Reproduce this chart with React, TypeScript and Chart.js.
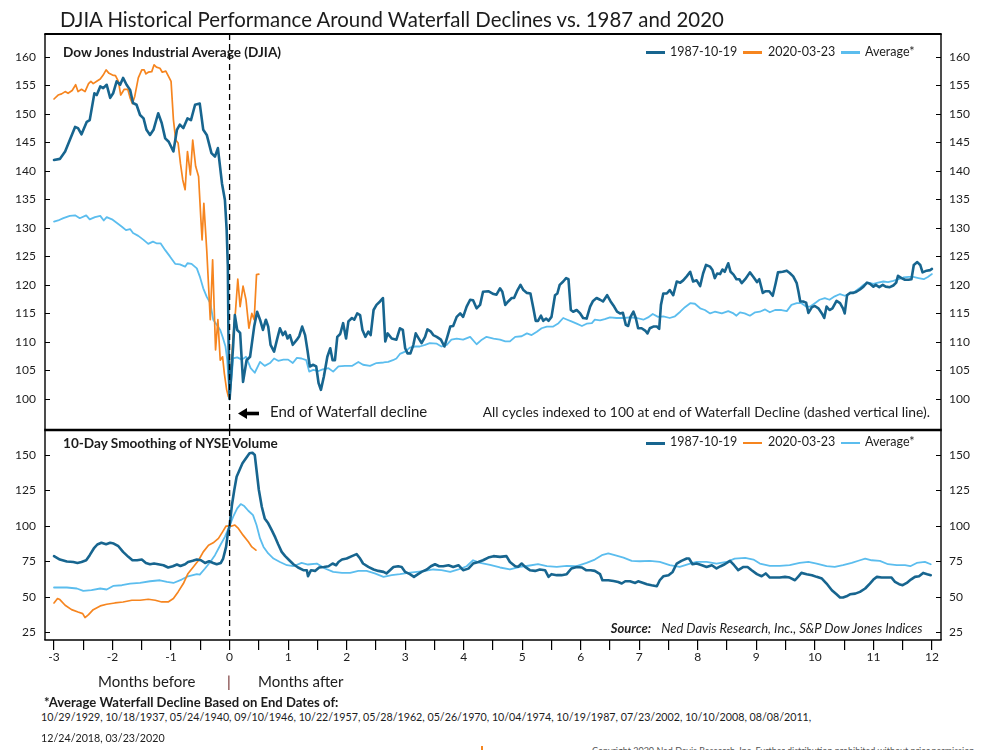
import React, { useEffect, useRef } from "react";
import { Chart, registerables } from "chart.js";

Chart.register(...registerables);

const FONT = "Lato, 'Open Sans', 'DejaVu Sans', sans-serif";
const DARK = "#17658f";
const ORANGE = "#f6851f";
const LIGHT = "#5bbdee";
const INK = "#1c1c1c";

// ---------- axes ----------
const MONTH_TICKS = [-3, -2.5, -2, -1.5, -1, -0.5, 0, 0.5, 1, 1.5, 2, 2.5, 3, 3.5, 4, 4.5, 5, 5.5, 6, 6.5, 7, 7.5, 8, 8.5, 9, 9.5, 10, 10.5, 11, 11.5, 12];
const DJIA_TICKS = [100, 105, 110, 115, 120, 125, 130, 135, 140, 145, 150, 155, 160];
const VOLUME_TICKS = [25, 50, 75, 100, 125, 150];
const MONTH_RANGE = [-3.154, 12.155];
const DJIA_RANGE = [94.56, 164];
const VOLUME_RANGE = [19.6, 167.6];

const LEGEND_LABELS = ["1987-10-19", "2020-03-23", "Average*"];
const END_DATES = [
  "10/29/1929", "10/18/1937", "05/24/1940", "09/10/1946", "10/22/1957", "05/28/1962", "05/26/1970",
  "10/04/1974", "10/19/1987", "07/23/2002", "10/10/2008", "08/08/2011", "12/24/2018", "03/23/2020",
];

// ---------- DJIA (indexed to 100), [month, value] ----------
const DJIA_1987 = [
  [-3.0, 141.9], [-2.9, 142.1], [-2.81, 143.4], [-2.73, 145.4], [-2.64, 147.7], [-2.59, 147.5], [-2.53, 146.4], [-2.44, 148.6], [-2.39, 148.9], [-2.31, 153.6],
  [-2.27, 153.3], [-2.21, 154.8], [-2.16, 154.5], [-2.1, 155.1], [-2.04, 152.8], [-1.99, 153.6], [-1.93, 155.7], [-1.87, 155.1], [-1.82, 156.3], [-1.76, 155.1],
  [-1.7, 154.2], [-1.65, 151.9], [-1.59, 151.6], [-1.53, 149.8], [-1.47, 149.2], [-1.42, 147.2], [-1.36, 146.3], [-1.3, 147.2], [-1.22, 150.1], [-1.16, 148.4],
  [-1.1, 145.7], [-1.04, 145.1], [-0.96, 143.4], [-0.9, 147.2], [-0.85, 148.1], [-0.79, 147.5], [-0.72, 149.2], [-0.66, 148.9], [-0.59, 151.6], [-0.51, 151.8],
  [-0.45, 147.2], [-0.39, 146.3], [-0.31, 143.1], [-0.25, 142.5], [-0.2, 144.0], [-0.13, 137.8], [-0.08, 134.9], [-0.05, 129.6], [-0.03, 123.2], [-0.02, 111.6],
  [0, 100],
  [0.06, 109.2], [0.09, 114.7], [0.13, 112.1], [0.18, 111.6], [0.23, 103.0], [0.29, 106.8], [0.35, 107.4], [0.42, 112.7], [0.47, 115.3], [0.52, 113.9],
  [0.57, 112.1], [0.62, 113.9], [0.66, 112.7], [0.7, 109.5], [0.76, 108.3], [0.81, 110.4], [0.86, 112.4], [0.91, 111.2], [0.95, 111.8], [0.99, 110.6],
  [1.03, 111.2], [1.08, 109.5], [1.15, 110.4], [1.19, 111.0], [1.24, 112.7], [1.29, 111.2], [1.33, 108.6], [1.37, 105.7], [1.43, 106.0], [1.48, 105.7],
  [1.52, 102.8], [1.56, 101.6], [1.61, 103.9], [1.67, 107.4], [1.72, 108.9], [1.76, 106.8], [1.8, 106.8], [1.84, 110.9], [1.89, 111.4], [1.94, 113.3],
  [1.99, 110.6], [2.03, 113.6], [2.09, 114.2], [2.13, 113.9], [2.18, 115.0], [2.23, 114.7], [2.27, 112.1], [2.32, 110.9], [2.37, 111.8], [2.41, 111.2],
  [2.46, 115.6], [2.51, 116.5], [2.57, 117.1], [2.62, 117.7], [2.66, 110.1], [2.7, 111.5], [2.77, 110.6], [2.85, 110.4], [2.91, 112.4], [2.96, 112.1],
  [3.0, 108.9], [3.04, 108.0], [3.09, 108.0], [3.14, 109.5], [3.18, 111.5], [3.22, 110.8], [3.28, 109.8], [3.34, 110.9], [3.38, 112.2], [3.44, 111.8],
  [3.48, 111.2], [3.54, 110.9], [3.61, 110.4], [3.67, 109.2], [3.72, 110.9], [3.77, 112.7], [3.82, 112.8], [3.88, 114.4], [3.94, 115.0], [3.99, 114.4],
  [4.05, 116.2], [4.11, 117.4], [4.16, 117.3], [4.22, 115.9], [4.28, 116.5], [4.33, 118.8], [4.42, 118.9], [4.51, 118.4], [4.56, 118.3], [4.62, 119.4],
  [4.66, 118.8], [4.71, 116.5], [4.76, 117.1], [4.82, 117.7], [4.86, 117.7], [4.92, 119.1], [4.97, 120.0], [5.02, 119.1], [5.08, 118.6], [5.14, 118.5],
  [5.19, 115.9], [5.23, 113.7], [5.27, 113.7], [5.32, 114.6], [5.36, 113.7], [5.41, 114.1], [5.45, 113.7], [5.5, 114.4], [5.56, 118.2], [5.6, 118.5],
  [5.64, 120.0], [5.7, 120.6], [5.75, 121.2], [5.79, 121.0], [5.83, 115.6], [5.87, 115.3], [5.93, 115.6], [5.99, 115.0], [6.04, 114.2], [6.1, 114.1],
  [6.16, 116.2], [6.21, 117.2], [6.27, 117.7], [6.33, 117.4], [6.38, 117.1], [6.45, 118.2], [6.51, 117.1], [6.57, 116.2], [6.62, 115.3], [6.67, 115.0],
  [6.72, 115.1], [6.77, 113.0], [6.81, 112.8], [6.85, 114.4], [6.9, 115.3], [6.94, 114.2], [6.98, 112.4], [7.04, 112.4], [7.1, 112.0], [7.14, 111.5],
  [7.18, 112.4], [7.24, 112.7], [7.3, 112.7], [7.34, 112.3], [7.37, 116.5], [7.41, 118.5], [7.47, 118.5], [7.52, 119.1], [7.58, 118.2], [7.64, 120.6],
  [7.7, 120.4], [7.75, 120.8], [7.81, 121.5], [7.87, 122.3], [7.92, 120.6], [7.98, 120.8], [8.04, 119.8], [8.09, 122.0], [8.14, 123.5], [8.21, 123.2],
  [8.25, 122.6], [8.29, 121.2], [8.33, 122.0], [8.38, 121.9], [8.42, 122.7], [8.46, 122.3], [8.52, 123.8], [8.56, 122.3], [8.61, 121.8], [8.66, 121.0],
  [8.71, 121.0], [8.75, 120.3], [8.81, 121.0], [8.89, 122.2], [8.95, 121.4], [9.01, 120.5], [9.05, 121.0], [9.11, 118.6], [9.16, 118.9], [9.22, 118.9],
  [9.28, 118.1], [9.33, 120.3], [9.37, 122.2], [9.45, 122.3], [9.52, 122.5], [9.57, 122.1], [9.63, 121.5], [9.69, 120.3], [9.72, 118.8], [9.75, 117.1],
  [9.8, 117.1], [9.85, 116.9], [9.89, 115.1], [9.95, 116.1], [10.0, 116.3], [10.06, 115.9], [10.12, 115.0], [10.16, 114.2], [10.2, 116.2], [10.25, 115.6],
  [10.3, 115.9], [10.37, 117.2], [10.43, 116.8], [10.48, 115.9], [10.51, 115.0], [10.55, 118.2], [10.6, 118.6], [10.66, 118.6], [10.71, 118.8], [10.77, 119.2],
  [10.83, 119.7], [10.89, 120.4], [10.94, 120.2], [11.0, 119.7], [11.04, 120.0], [11.1, 119.6], [11.16, 120.0], [11.21, 119.7], [11.28, 119.6], [11.34, 119.9],
  [11.39, 120.4], [11.42, 121.6], [11.48, 121.2], [11.54, 120.9], [11.6, 120.9], [11.65, 121.0], [11.69, 123.5], [11.75, 124.0], [11.8, 123.5], [11.84, 122.2],
  [11.91, 122.5], [11.97, 122.6], [12.0, 122.8],
];

const DJIA_2020 = [
  [-3.0, 152.6], [-2.93, 153.3], [-2.87, 153.5], [-2.81, 153.9], [-2.76, 153.6], [-2.69, 154.1], [-2.63, 155.1], [-2.59, 153.9], [-2.53, 154.3], [-2.47, 153.9],
  [-2.41, 155.3], [-2.37, 155.7], [-2.33, 155.3], [-2.27, 155.7], [-2.21, 156.1], [-2.16, 156.8], [-2.11, 157.7], [-2.06, 157.1], [-2.0, 156.8], [-1.95, 156.7],
  [-1.9, 155.7], [-1.86, 153.3], [-1.8, 154.3], [-1.74, 154.3], [-1.7, 152.8], [-1.66, 151.8], [-1.62, 153.1], [-1.56, 156.3], [-1.5, 157.7], [-1.46, 157.7],
  [-1.43, 157.0], [-1.39, 157.3], [-1.33, 157.4], [-1.29, 158.6], [-1.25, 158.2], [-1.19, 158.0], [-1.15, 157.3], [-1.09, 157.5], [-1.05, 156.7], [-1.0, 155.7],
  [-0.96, 149.0], [-0.92, 145.4], [-0.88, 144.9], [-0.84, 141.3], [-0.8, 138.4], [-0.76, 136.7], [-0.72, 143.4], [-0.67, 139.3], [-0.63, 145.4], [-0.58, 140.8],
  [-0.53, 139.0], [-0.49, 131.4], [-0.47, 127.9], [-0.44, 134.3], [-0.39, 126.0], [-0.33, 113.9], [-0.29, 124.4], [-0.24, 108.6], [-0.2, 113.9], [-0.16, 106.8],
  [-0.12, 107.4], [-0.09, 104.5], [-0.05, 101.6], [-0.02, 100.4], [0, 100], [0.02, 104.5], [0.06, 110.9], [0.1, 115.3], [0.14, 121.0], [0.18, 116.2],
  [0.23, 119.8], [0.28, 117.4], [0.33, 112.4], [0.38, 115.0], [0.42, 113.9], [0.46, 121.8], [0.5, 121.9],
];

const DJIA_AVERAGE = [
  [-3.0, 131.1], [-2.93, 131.3], [-2.84, 131.7], [-2.73, 132.1], [-2.64, 132.2], [-2.56, 131.7], [-2.45, 132.2], [-2.39, 131.5], [-2.3, 131.9], [-2.21, 132.1],
  [-2.15, 131.3], [-2.1, 131.9], [-2.01, 131.5], [-1.93, 130.9], [-1.84, 130.2], [-1.77, 129.6], [-1.7, 129.8], [-1.65, 129.1], [-1.56, 128.6], [-1.47, 127.9],
  [-1.39, 127.2], [-1.31, 127.6], [-1.25, 127.3], [-1.18, 127.3], [-1.1, 126.1], [-1.02, 125.0], [-0.93, 123.7], [-0.85, 123.6], [-0.76, 123.2], [-0.72, 123.8],
  [-0.65, 123.7], [-0.56, 122.9], [-0.51, 121.5], [-0.45, 119.4], [-0.39, 117.9], [-0.33, 116.8], [-0.28, 113.9], [-0.22, 113.0], [-0.16, 112.1], [-0.12, 110.9],
  [-0.07, 109.2], [-0.04, 106.8], [0, 100], [0.04, 104.5], [0.06, 107.1], [0.13, 107.3], [0.21, 106.9], [0.28, 107.4], [0.36, 105.4], [0.43, 104.6],
  [0.52, 106.5], [0.6, 105.8], [0.69, 106.3], [0.76, 107.1], [0.83, 106.7], [0.92, 106.9], [1.0, 106.9], [1.08, 106.3], [1.15, 107.2], [1.23, 107.1],
  [1.31, 106.8], [1.36, 104.8], [1.43, 105.1], [1.52, 104.9], [1.59, 105.2], [1.69, 105.4], [1.77, 104.8], [1.86, 105.7], [1.97, 105.8], [2.09, 105.8],
  [2.2, 106.5], [2.28, 106.0], [2.4, 105.8], [2.51, 106.3], [2.63, 106.4], [2.71, 106.5], [2.79, 106.8], [2.85, 107.1], [2.91, 107.9], [3.0, 108.3],
  [3.08, 109.0], [3.17, 109.2], [3.25, 109.2], [3.34, 109.5], [3.42, 109.8], [3.54, 109.7], [3.62, 109.2], [3.71, 109.5], [3.79, 110.4], [3.88, 110.6],
  [3.99, 110.4], [4.11, 110.9], [4.22, 109.6], [4.31, 110.4], [4.39, 110.9], [4.51, 110.6], [4.62, 110.4], [4.71, 110.1], [4.79, 110.1], [4.88, 110.9],
  [4.99, 111.0], [5.08, 111.5], [5.16, 111.2], [5.25, 111.8], [5.33, 112.4], [5.42, 112.7], [5.53, 112.7], [5.62, 113.3], [5.7, 114.2], [5.77, 113.9],
  [5.84, 113.6], [5.93, 113.2], [6.02, 112.8], [6.1, 113.2], [6.19, 113.3], [6.24, 113.9], [6.33, 113.8], [6.41, 114.0], [6.5, 114.3], [6.61, 114.2],
  [6.73, 114.2], [6.84, 114.3], [6.96, 114.2], [7.07, 113.9], [7.15, 114.3], [7.23, 114.9], [7.32, 114.4], [7.41, 114.5], [7.52, 114.2], [7.61, 114.5],
  [7.7, 115.3], [7.78, 116.1], [7.87, 116.8], [7.95, 116.7], [8.04, 115.9], [8.12, 115.6], [8.21, 115.0], [8.29, 115.3], [8.41, 115.0], [8.52, 115.4],
  [8.61, 115.0], [8.66, 114.6], [8.72, 115.2], [8.8, 115.0], [8.89, 114.6], [8.98, 115.2], [9.06, 115.3], [9.15, 115.7], [9.23, 115.2], [9.32, 115.6],
  [9.43, 115.6], [9.52, 115.4], [9.6, 116.5], [9.69, 116.8], [9.77, 116.8], [9.85, 116.2], [9.92, 116.2], [10.0, 116.8], [10.08, 117.4], [10.17, 117.7],
  [10.25, 117.4], [10.34, 118.0], [10.43, 118.4], [10.51, 118.1], [10.6, 118.5], [10.68, 118.8], [10.76, 119.4], [10.83, 120.0], [10.91, 120.4], [11.0, 120.2],
  [11.08, 120.4], [11.17, 120.6], [11.25, 120.5], [11.34, 120.7], [11.43, 121.0], [11.51, 121.3], [11.6, 121.4], [11.68, 121.4], [11.77, 121.2], [11.86, 121.0],
  [11.93, 121.4], [12.0, 121.9],
];

// ---------- 10-day smoothed NYSE volume (indexed), [month, value] ----------
const VOLUME_1987 = [
  [-3.0, 78.7], [-2.9, 76.3], [-2.78, 74.9], [-2.67, 74.6], [-2.6, 73.9], [-2.53, 74.6], [-2.45, 75.8], [-2.39, 79.4], [-2.32, 84.1], [-2.26, 86.9],
  [-2.19, 88.1], [-2.11, 87.1], [-2.04, 88.1], [-1.98, 87.6], [-1.9, 85.7], [-1.82, 81.7], [-1.73, 78.2], [-1.66, 75.8], [-1.58, 75.8], [-1.5, 76.3],
  [-1.43, 73.9], [-1.36, 73.0], [-1.29, 73.5], [-1.22, 73.0], [-1.13, 72.3], [-1.05, 70.7], [-0.97, 71.6], [-0.9, 72.8], [-0.84, 71.8], [-0.76, 73.0],
  [-0.71, 74.6], [-0.63, 75.4], [-0.56, 76.3], [-0.49, 75.8], [-0.42, 73.9], [-0.35, 75.1], [-0.28, 73.9], [-0.22, 73.0], [-0.15, 73.9], [-0.11, 77.0],
  [-0.06, 85.2], [-0.03, 94.7], [0, 100], [0.04, 114.7], [0.08, 125.3], [0.12, 134.7], [0.17, 139.4], [0.22, 144.1], [0.28, 147.7], [0.34, 151.2],
  [0.39, 151.6], [0.43, 150.0], [0.46, 139.4], [0.5, 125.3], [0.55, 113.5], [0.6, 105.3], [0.66, 101.8], [0.72, 97.0], [0.78, 91.9], [0.83, 87.1],
  [0.89, 81.7], [0.95, 78.7], [1.02, 75.8], [1.09, 73.0], [1.17, 70.7], [1.26, 68.8], [1.32, 68.8], [1.34, 64.5], [1.39, 68.8], [1.46, 68.3],
  [1.53, 70.7], [1.61, 71.1], [1.69, 71.6], [1.76, 73.5], [1.82, 72.3], [1.86, 74.6], [1.92, 76.3], [2.0, 77.0], [2.09, 78.7], [2.17, 80.1],
  [2.23, 77.0], [2.28, 73.5], [2.37, 71.1], [2.46, 69.3], [2.54, 68.3], [2.63, 67.6], [2.68, 66.5], [2.74, 68.8], [2.8, 71.1], [2.88, 71.6],
  [2.94, 71.1], [3.0, 67.6], [3.08, 66.0], [3.15, 64.1], [3.22, 66.0], [3.28, 67.6], [3.37, 69.3], [3.44, 71.6], [3.51, 73.0], [3.58, 71.6],
  [3.65, 71.6], [3.74, 72.3], [3.82, 71.1], [3.91, 72.3], [3.99, 68.8], [4.08, 69.9], [4.16, 73.5], [4.25, 74.6], [4.33, 75.8], [4.42, 77.7],
  [4.51, 78.7], [4.62, 78.2], [4.73, 78.7], [4.79, 74.6], [4.88, 71.6], [4.93, 71.2], [4.99, 73.5], [5.05, 71.1], [5.13, 68.8], [5.22, 68.3],
  [5.3, 69.3], [5.39, 68.8], [5.45, 64.1], [5.5, 66.0], [5.59, 65.3], [5.67, 65.3], [5.76, 66.0], [5.84, 70.0], [5.93, 71.1], [6.02, 70.7],
  [6.09, 68.8], [6.17, 68.8], [6.24, 68.3], [6.33, 66.0], [6.37, 61.7], [6.47, 61.7], [6.56, 61.2], [6.64, 60.5], [6.7, 59.4], [6.76, 61.0],
  [6.84, 61.0], [6.93, 59.8], [6.98, 61.0], [7.07, 59.8], [7.13, 58.9], [7.21, 58.2], [7.3, 57.5], [7.35, 61.7], [7.41, 64.5], [7.5, 65.3],
  [7.57, 67.6], [7.64, 73.5], [7.72, 75.4], [7.81, 77.0], [7.85, 77.0], [7.91, 73.0], [7.98, 73.5], [8.07, 72.3], [8.15, 71.1], [8.24, 72.3],
  [8.32, 70.0], [8.39, 71.6], [8.46, 73.0], [8.55, 75.4], [8.62, 72.3], [8.69, 68.8], [8.78, 71.1], [8.85, 71.1], [8.92, 68.8], [9.01, 66.0],
  [9.09, 64.5], [9.16, 66.5], [9.23, 63.6], [9.32, 63.6], [9.4, 63.6], [9.49, 64.1], [9.57, 63.6], [9.66, 61.7], [9.72, 64.5], [9.77, 66.9],
  [9.86, 66.0], [9.95, 65.3], [10.03, 64.1], [10.12, 62.9], [10.2, 59.4], [10.29, 54.7], [10.37, 51.8], [10.43, 49.5], [10.48, 49.5], [10.54, 50.4],
  [10.6, 51.8], [10.69, 52.3], [10.77, 53.5], [10.86, 55.9], [10.94, 59.4], [11.0, 62.2], [11.06, 64.1], [11.14, 63.6], [11.23, 63.6], [11.31, 63.6],
  [11.37, 60.5], [11.44, 58.9], [11.5, 58.2], [11.57, 59.8], [11.64, 62.2], [11.71, 64.1], [11.78, 64.5], [11.85, 66.9], [11.92, 66.0], [11.98, 65.3],
];

const VOLUME_2020 = [
  [-3.0, 45.7], [-2.94, 48.8], [-2.9, 48.1], [-2.81, 44.1], [-2.7, 41.0], [-2.59, 39.3], [-2.51, 38.2], [-2.47, 35.4], [-2.41, 37.5], [-2.33, 41.0],
  [-2.21, 43.6], [-2.1, 44.8], [-1.96, 45.7], [-1.82, 46.4], [-1.67, 47.6], [-1.53, 47.6], [-1.39, 48.3], [-1.27, 47.6], [-1.16, 46.4], [-1.05, 46.4],
  [-0.96, 48.8], [-0.88, 53.5], [-0.79, 59.4], [-0.71, 66.5], [-0.62, 71.1], [-0.53, 75.8], [-0.45, 81.7], [-0.36, 86.4], [-0.28, 88.1], [-0.19, 91.2],
  [-0.12, 95.8], [-0.06, 99.9], [0, 100], [0.04, 99.9], [0.09, 100.6], [0.15, 98.2], [0.23, 93.5], [0.32, 88.8], [0.38, 85.2], [0.45, 82.9],
];

const VOLUME_AVERAGE = [
  [-3.0, 56.6], [-2.78, 56.6], [-2.61, 55.9], [-2.5, 54.2], [-2.36, 54.7], [-2.21, 55.9], [-2.1, 55.2], [-1.99, 57.7], [-1.84, 58.2], [-1.7, 59.4],
  [-1.53, 59.8], [-1.36, 61.0], [-1.19, 61.7], [-1.07, 60.5], [-0.96, 59.8], [-0.82, 62.2], [-0.71, 64.5], [-0.56, 66.0], [-0.51, 65.7], [-0.42, 70.0],
  [-0.33, 74.6], [-0.25, 79.4], [-0.16, 86.4], [-0.08, 92.3], [0, 100], [0.06, 106.4], [0.13, 112.4], [0.19, 115.4], [0.25, 114.0], [0.32, 110.7],
  [0.4, 107.6], [0.46, 100.6], [0.52, 91.2], [0.58, 85.2], [0.66, 80.6], [0.75, 77.0], [0.86, 74.6], [0.98, 72.3], [1.09, 71.6], [1.23, 73.9],
  [1.34, 72.8], [1.49, 73.5], [1.63, 70.0], [1.77, 67.6], [1.92, 66.9], [2.06, 66.9], [2.2, 68.3], [2.34, 68.3], [2.48, 66.5], [2.63, 64.1],
  [2.77, 65.3], [2.91, 66.0], [3.05, 66.9], [3.2, 67.6], [3.34, 68.3], [3.48, 69.3], [3.62, 68.8], [3.77, 67.6], [3.91, 69.3], [4.05, 71.6],
  [4.16, 75.8], [4.28, 74.0], [4.45, 72.5], [4.62, 70.7], [4.79, 69.3], [4.96, 71.1], [5.13, 72.1], [5.27, 73.0], [5.42, 71.6], [5.59, 71.1],
  [5.76, 71.8], [5.93, 71.6], [6.1, 73.9], [6.24, 76.3], [6.36, 79.4], [6.47, 80.6], [6.58, 79.4], [6.73, 77.7], [6.87, 75.4], [7.01, 75.1],
  [7.18, 75.4], [7.35, 74.6], [7.52, 72.3], [7.69, 71.1], [7.84, 73.0], [7.98, 74.6], [8.15, 74.6], [8.32, 73.5], [8.49, 74.6], [8.63, 77.0],
  [8.81, 77.5], [8.95, 76.3], [9.06, 73.5], [9.23, 71.8], [9.4, 71.8], [9.57, 72.3], [9.74, 73.9], [9.89, 74.6], [10.03, 73.5], [10.2, 71.6],
  [10.34, 71.1], [10.48, 72.3], [10.63, 73.9], [10.77, 75.8], [10.86, 77.0], [10.97, 75.8], [11.11, 75.4], [11.25, 73.0], [11.4, 72.3], [11.54, 72.3],
  [11.63, 71.6], [11.74, 73.9], [11.88, 74.6], [11.98, 73.0],
];

// ---------- helpers ----------
const toPoints = (s: number[][]) => s.map(([x, y]) => ({ x, y }));

function lineSet(label: string, series: number[][], color: string, width: number, order: number) {
  return {
    label,
    data: toPoints(series),
    borderColor: color,
    backgroundColor: color,
    borderWidth: width,
    pointRadius: 0,
    pointHoverRadius: 0,
    tension: 0,
    fill: false,
    order,
    xAxisID: "x",
    yAxisID: "yL",
    borderJoinStyle: "round" as const,
    borderCapStyle: "round" as const,
  };
}

function yAxis(position: "left" | "right", range: number[], ticks: number[], width: number, padding: number) {
  return {
    type: "linear" as const,
    position,
    min: range[0],
    max: range[1],
    afterFit: (s: any) => {
      s.width = width;
      s.paddingTop = 0;
      s.paddingBottom = 0;
      s.paddingLeft = 0;
      s.paddingRight = 0;
    },
    afterBuildTicks: (s: any) => {
      s.ticks = ticks.map((v) => ({ value: v }));
    },
    grid: { display: false, drawTicks: false },
    border: { display: false },
    ticks: { padding, color: INK, font: { family: FONT, size: 12 } },
  };
}

function framePlugin(ticks: number[], topWidth: number, bottomWidth: number) {
  return {
    id: "panelFrame",
    afterDatasetsDraw(chart: any) {
      const { ctx, chartArea: a, scales } = chart;
      const x0 = scales.x.getPixelForValue(0);
      ctx.save();
      ctx.strokeStyle = "#000";
      ctx.lineWidth = 1.3;
      ctx.setLineDash([6, 4]);
      ctx.beginPath();
      ctx.moveTo(x0, a.top);
      ctx.lineTo(x0, a.bottom);
      ctx.stroke();
      ctx.setLineDash([]);
      ctx.lineWidth = 1.4;
      ctx.beginPath();
      ctx.moveTo(a.left, a.top);
      ctx.lineTo(a.left, a.bottom);
      ctx.moveTo(a.right, a.top);
      ctx.lineTo(a.right, a.bottom);
      ctx.stroke();
      ctx.lineWidth = topWidth;
      ctx.beginPath();
      ctx.moveTo(a.left - 0.7, a.top);
      ctx.lineTo(a.right + 0.7, a.top);
      ctx.stroke();
      if (bottomWidth > 0) {
        ctx.lineWidth = bottomWidth;
        ctx.beginPath();
        ctx.moveTo(a.left - 0.7, a.bottom);
        ctx.lineTo(a.right + 0.7, a.bottom);
        ctx.stroke();
      }
      ctx.lineWidth = 1;
      ctx.beginPath();
      for (const v of ticks) {
        const y = Math.round(scales.yL.getPixelForValue(v)) + 0.5;
        ctx.moveTo(a.left, y);
        ctx.lineTo(a.left + 5, y);
        ctx.moveTo(a.right, y);
        ctx.lineTo(a.right - 5, y);
      }
      ctx.stroke();
      ctx.restore();
    },
  };
}

function topConfig(): any {
  return {
    type: "line",
    data: {
      datasets: [
        lineSet(LEGEND_LABELS[0], DJIA_1987, DARK, 2.6, 1),
        lineSet(LEGEND_LABELS[1], DJIA_2020, ORANGE, 1.7, 2),
        lineSet(LEGEND_LABELS[2], DJIA_AVERAGE, LIGHT, 1.8, 3),
      ],
    },
    options: {
      responsive: false,
      animation: false,
      events: [],
      layout: { padding: { top: 34, bottom: 1, left: 0, right: 0 } },
      plugins: { legend: { display: false }, tooltip: { enabled: false }, title: { display: false } },
      scales: {
        x: { type: "linear", min: MONTH_RANGE[0], max: MONTH_RANGE[1], display: false },
        yL: yAxis("left", DJIA_RANGE, DJIA_TICKS, 45, 9),
        yR: yAxis("right", DJIA_RANGE, DJIA_TICKS, 42, 8),
      },
    },
    plugins: [framePlugin(DJIA_TICKS, 2, 0)],
  };
}

function bottomConfig(): any {
  return {
    type: "line",
    data: {
      datasets: [
        lineSet(LEGEND_LABELS[0], VOLUME_1987, DARK, 2.6, 1),
        lineSet(LEGEND_LABELS[1], VOLUME_2020, ORANGE, 1.7, 2),
        lineSet(LEGEND_LABELS[2], VOLUME_AVERAGE, LIGHT, 1.8, 3),
      ],
    },
    options: {
      responsive: false,
      animation: false,
      events: [],
      layout: { padding: { top: 10, bottom: 0, left: 0, right: 0 } },
      plugins: { legend: { display: false }, tooltip: { enabled: false }, title: { display: false } },
      scales: {
        x: {
          type: "linear",
          position: "bottom",
          min: MONTH_RANGE[0],
          max: MONTH_RANGE[1],
          afterFit: (s: any) => {
            s.height = 40;
            s.paddingLeft = 0;
            s.paddingRight = 0;
            s.paddingTop = 0;
            s.paddingBottom = 0;
          },
          afterBuildTicks: (s: any) => {
            s.ticks = MONTH_TICKS.map((v) => ({ value: v }));
          },
          grid: { display: true, drawOnChartArea: false, drawTicks: true, tickLength: 10, color: "#000", lineWidth: 1.2 },
          border: { display: false },
          ticks: {
            autoSkip: false,
            maxRotation: 0,
            minRotation: 0,
            padding: 0,
            color: INK,
            font: { family: FONT, size: 12 },
            callback: (v: number) => (Number.isInteger(v) ? String(v) : ""),
          },
        },
        yL: yAxis("left", VOLUME_RANGE, VOLUME_TICKS, 45, 9),
        yR: yAxis("right", VOLUME_RANGE, VOLUME_TICKS, 42, 8),
      },
    },
    plugins: [framePlugin(VOLUME_TICKS, 2.6, 1.5)],
  };
}

// ---------- html pieces ----------
const abs = (left: number, top: number, size: number, extra: React.CSSProperties = {}): React.CSSProperties => ({
  position: "absolute",
  left,
  top,
  fontSize: size,
  lineHeight: 1,
  whiteSpace: "nowrap",
  color: INK,
  ...extra,
});

function Legend({ top }: { top: number }) {
  const items = [
    { color: DARK, h: 3, sx: 646, tx: 670 },
    { color: ORANGE, h: 2.4, sx: 743, tx: 768 },
    { color: LIGHT, h: 2.4, sx: 841, tx: 865 },
  ];
  return (
    <>
      {items.map((it, i) => (
        <React.Fragment key={i}>
          <div style={{ position: "absolute", left: it.sx, top: top + 7 - it.h / 2, width: 19, height: it.h, background: it.color }} />
          <div style={abs(it.tx, top, 12.5)}>{LEGEND_LABELS[i]}</div>
        </React.Fragment>
      ))}
    </>
  );
}

export default function App() {
  const topRef = useRef<HTMLCanvasElement>(null);
  const botRef = useRef<HTMLCanvasElement>(null);

  useEffect(() => {
    Chart.defaults.font.family = FONT;
    const c1 = new Chart(topRef.current as HTMLCanvasElement, topConfig());
    const c2 = new Chart(botRef.current as HTMLCanvasElement, bottomConfig());
    return () => {
      c1.destroy();
      c2.destroy();
    };
  }, []);

  const datesLine1 = END_DATES.slice(0, 12).join(", ") + ",";
  const datesLine2 = END_DATES.slice(12).join(", ");

  return (
    <div style={{ position: "absolute", left: 0, top: 0, width: 983, height: 750, overflow: "hidden", background: "#fff", fontFamily: FONT }}>
      <canvas ref={topRef} width={983} height={431} style={{ position: "absolute", left: 0, top: 0, width: 983, height: 431 }} />
      <canvas ref={botRef} width={983} height={260} style={{ position: "absolute", left: 0, top: 420, width: 983, height: 260 }} />

      <div style={abs(60, 8.6, 20.4)}>DJIA Historical Performance Around Waterfall Declines vs. 1987 and 2020</div>

      <div style={abs(63, 46.2, 13.6, { fontWeight: 700 })}>Dow Jones Industrial Average (DJIA)</div>
      <Legend top={45.5} />

      <svg style={{ position: "absolute", left: 237, top: 407 }} width={23} height={13} viewBox="0 0 23 13">
        <polygon points="1,6.5 10,1 10,12" fill="#000" />
        <rect x={9} y={4.7} width={13} height={3.6} fill="#000" />
      </svg>
      <div style={abs(270, 403.5, 15)}>End of Waterfall decline</div>
      <div style={abs(0, 404.8, 13.85, { left: undefined, right: 983 - 930 })}>
        All cycles indexed to 100 at end of Waterfall Decline (dashed vertical line).
      </div>

      <div style={abs(63, 437.2, 13.6, { fontWeight: 700 })}>10-Day Smoothing of NYSE Volume</div>
      <Legend top={436.2} />

      <div style={abs(0, 622, 13, { left: undefined, right: 983 - 922.5, fontStyle: "italic" })}>
        <span style={{ fontWeight: 700 }}>Source:</span>
        <span style={{ marginLeft: 10 }}>Ned Davis Research, Inc., S&amp;P Dow Jones Indices</span>
      </div>

      <div style={abs(98, 674, 15)}>Months before</div>
      <div style={abs(227, 674, 15, { color: "#6b2424" })}>|</div>
      <div style={abs(258, 674, 15)}>Months after</div>

      <div style={abs(44, 695.9, 13.1, { fontWeight: 700 })}>*Average Waterfall Decline Based on End Dates of:</div>
      <div style={abs(41, 712, 10.7)}>{datesLine1}</div>
      <div style={abs(41, 732.5, 10.7)}>{datesLine2}</div>

      <div style={{ position: "absolute", left: 481, top: 746, width: 1.5, height: 4, background: ORANGE }} />
      <div style={abs(592, 745.5, 9, { color: "#555" })}>
        Copyright 2020 Ned Davis Research, Inc. Further distribution prohibited without prior permission.
      </div>
    </div>
  );
}
